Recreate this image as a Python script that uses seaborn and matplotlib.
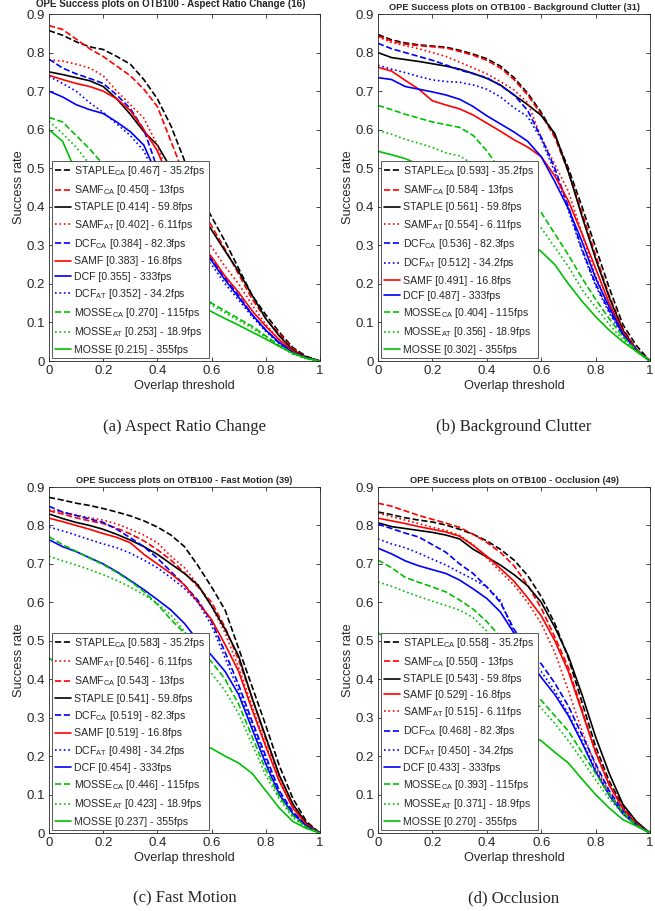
import numpy as np
import pandas as pd
import seaborn as sns
import matplotlib
matplotlib.use("Agg")
import matplotlib.pyplot as plt

# overlap thresholds 0:0.05:1
thresholds = [round(0.05 * i, 2) for i in range(21)]

fps = {"STAPLE_CA": "35.2fps", "SAMF_CA": "13fps", "STAPLE": "59.8fps", "SAMF_AT": "6.11fps",
       "DCF_CA": "82.3fps", "SAMF": "16.8fps", "DCF": "333fps", "DCF_AT": "34.2fps",
       "MOSSE_CA": "115fps", "MOSSE_AT": "18.9fps", "MOSSE": "355fps"}

# (a) Aspect Ratio Change
arc_names = ["STAPLE_CA", "SAMF_CA", "STAPLE", "SAMF_AT", "DCF_CA", "SAMF", "DCF", "DCF_AT",
             "MOSSE_CA", "MOSSE_AT", "MOSSE"]
arc_auc = ["0.467", "0.450", "0.414", "0.402", "0.384", "0.383", "0.355", "0.352", "0.270", "0.253", "0.215"]
arc_curves = [
    [0.857, 0.845, 0.828, 0.815, 0.808, 0.79, 0.77, 0.73, 0.68, 0.61, 0.52, 0.44, 0.374, 0.31, 0.24, 0.17, 0.12, 0.075, 0.035, 0.012, 0],
    [0.87, 0.86, 0.835, 0.81, 0.79, 0.765, 0.74, 0.705, 0.66, 0.57, 0.48, 0.42, 0.35, 0.29, 0.225, 0.16, 0.11, 0.07, 0.032, 0.01, 0],
    [0.75, 0.743, 0.735, 0.727, 0.712, 0.68, 0.64, 0.595, 0.56, 0.5, 0.45, 0.395, 0.34, 0.285, 0.232, 0.17, 0.11, 0.065, 0.028, 0.01, 0],
    [0.781, 0.778, 0.77, 0.76, 0.74, 0.70, 0.665, 0.63, 0.56, 0.46, 0.39, 0.34, 0.296, 0.245, 0.2, 0.145, 0.095, 0.055, 0.025, 0.008, 0],
    [0.783, 0.76, 0.745, 0.733, 0.72, 0.69, 0.655, 0.6, 0.5, 0.43, 0.36, 0.31, 0.265, 0.215, 0.17, 0.12, 0.08, 0.047, 0.022, 0.008, 0],
    [0.741, 0.73, 0.72, 0.712, 0.70, 0.68, 0.65, 0.6, 0.545, 0.46, 0.37, 0.315, 0.27, 0.22, 0.178, 0.13, 0.09, 0.055, 0.025, 0.008, 0],
    [0.70, 0.685, 0.665, 0.652, 0.642, 0.62, 0.595, 0.56, 0.48, 0.4, 0.34, 0.295, 0.26, 0.21, 0.165, 0.12, 0.08, 0.048, 0.022, 0.008, 0],
    [0.738, 0.72, 0.70, 0.67, 0.645, 0.615, 0.585, 0.545, 0.47, 0.39, 0.33, 0.285, 0.25, 0.2, 0.158, 0.115, 0.077, 0.045, 0.02, 0.007, 0],
    [0.632, 0.62, 0.585, 0.55, 0.51, 0.46, 0.41, 0.36, 0.31, 0.265, 0.225, 0.185, 0.15, 0.13, 0.11, 0.09, 0.065, 0.04, 0.02, 0.007, 0],
    [0.622, 0.59, 0.555, 0.51, 0.465, 0.42, 0.375, 0.33, 0.29, 0.25, 0.21, 0.175, 0.145, 0.125, 0.105, 0.085, 0.062, 0.038, 0.018, 0.006, 0],
    [0.6, 0.57, 0.49, 0.43, 0.38, 0.335, 0.295, 0.26, 0.225, 0.195, 0.17, 0.148, 0.128, 0.11, 0.093, 0.075, 0.057, 0.038, 0.02, 0.007, 0],
]

# (b) Background Clutter
bc_names = ["STAPLE_CA", "SAMF_CA", "STAPLE", "SAMF_AT", "DCF_CA", "DCF_AT", "SAMF", "DCF",
            "MOSSE_CA", "MOSSE_AT", "MOSSE"]
bc_auc = ["0.593", "0.584", "0.561", "0.554", "0.536", "0.512", "0.491", "0.487", "0.404", "0.356", "0.302"]
bc_curves = [
    [0.847, 0.833, 0.825, 0.82, 0.817, 0.814, 0.806, 0.796, 0.784, 0.765, 0.735, 0.695, 0.645, 0.585, 0.5, 0.4, 0.295, 0.19, 0.095, 0.04, 0],
    [0.843, 0.83, 0.822, 0.818, 0.815, 0.812, 0.803, 0.793, 0.78, 0.76, 0.73, 0.69, 0.64, 0.58, 0.49, 0.385, 0.275, 0.17, 0.085, 0.03, 0],
    [0.8, 0.787, 0.782, 0.777, 0.771, 0.765, 0.757, 0.746, 0.733, 0.716, 0.69, 0.665, 0.637, 0.59, 0.49, 0.375, 0.265, 0.165, 0.08, 0.03, 0],
    [0.841, 0.826, 0.818, 0.81, 0.8, 0.79, 0.775, 0.76, 0.745, 0.725, 0.703, 0.67, 0.58, 0.51, 0.44, 0.33, 0.22, 0.14, 0.07, 0.025, 0],
    [0.824, 0.81, 0.8, 0.79, 0.78, 0.768, 0.755, 0.745, 0.735, 0.715, 0.69, 0.65, 0.58, 0.5, 0.4, 0.29, 0.2, 0.13, 0.07, 0.03, 0],
    [0.767, 0.757, 0.748, 0.738, 0.729, 0.725, 0.723, 0.716, 0.705, 0.685, 0.657, 0.634, 0.575, 0.49, 0.39, 0.285, 0.195, 0.125, 0.065, 0.027, 0],
    [0.762, 0.752, 0.728, 0.705, 0.675, 0.664, 0.654, 0.638, 0.617, 0.596, 0.574, 0.555, 0.53, 0.48, 0.415, 0.33, 0.24, 0.15, 0.075, 0.03, 0],
    [0.735, 0.73, 0.712, 0.705, 0.698, 0.69, 0.679, 0.66, 0.636, 0.615, 0.594, 0.57, 0.53, 0.465, 0.395, 0.31, 0.215, 0.14, 0.07, 0.028, 0],
    [0.663, 0.652, 0.64, 0.63, 0.62, 0.613, 0.606, 0.585, 0.545, 0.495, 0.45, 0.415, 0.385, 0.33, 0.275, 0.215, 0.16, 0.11, 0.063, 0.028, 0],
    [0.598, 0.588, 0.575, 0.565, 0.554, 0.54, 0.532, 0.51, 0.48, 0.44, 0.405, 0.375, 0.345, 0.295, 0.245, 0.185, 0.14, 0.095, 0.055, 0.025, 0],
    [0.544, 0.535, 0.525, 0.51, 0.49, 0.465, 0.44, 0.415, 0.39, 0.365, 0.34, 0.31, 0.284, 0.25, 0.2, 0.155, 0.115, 0.08, 0.05, 0.025, 0],
]

# (c) Fast Motion
fm_names = ["STAPLE_CA", "SAMF_AT", "SAMF_CA", "STAPLE", "DCF_CA", "SAMF", "DCF_AT", "DCF",
            "MOSSE_CA", "MOSSE_AT", "MOSSE"]
fm_auc = ["0.583", "0.546", "0.543", "0.541", "0.519", "0.519", "0.498", "0.454", "0.446", "0.423", "0.237"]
fm_curves = [
    [0.873, 0.866, 0.858, 0.852, 0.844, 0.835, 0.825, 0.812, 0.796, 0.775, 0.745, 0.695, 0.64, 0.58, 0.48, 0.38, 0.28, 0.175, 0.09, 0.03, 0],
    [0.841, 0.834, 0.827, 0.82, 0.814, 0.804, 0.79, 0.775, 0.755, 0.72, 0.69, 0.645, 0.59, 0.52, 0.43, 0.33, 0.23, 0.14, 0.07, 0.025, 0],
    [0.838, 0.83, 0.82, 0.812, 0.805, 0.793, 0.778, 0.76, 0.737, 0.71, 0.677, 0.64, 0.6, 0.535, 0.45, 0.35, 0.245, 0.15, 0.075, 0.025, 0],
    [0.83, 0.818, 0.808, 0.8, 0.79, 0.777, 0.762, 0.745, 0.725, 0.7, 0.675, 0.645, 0.59, 0.53, 0.46, 0.35, 0.25, 0.15, 0.075, 0.025, 0],
    [0.85, 0.835, 0.826, 0.817, 0.808, 0.79, 0.768, 0.745, 0.715, 0.68, 0.645, 0.605, 0.55, 0.47, 0.385, 0.29, 0.2, 0.11, 0.055, 0.02, 0],
    [0.819, 0.81, 0.8, 0.79, 0.779, 0.769, 0.755, 0.725, 0.7, 0.675, 0.645, 0.6, 0.555, 0.49, 0.42, 0.32, 0.225, 0.135, 0.065, 0.022, 0],
    [0.796, 0.786, 0.775, 0.763, 0.752, 0.742, 0.728, 0.71, 0.69, 0.664, 0.636, 0.6, 0.54, 0.455, 0.37, 0.28, 0.19, 0.105, 0.05, 0.018, 0],
    [0.763, 0.745, 0.732, 0.716, 0.7, 0.68, 0.657, 0.633, 0.607, 0.58, 0.545, 0.5, 0.462, 0.42, 0.36, 0.27, 0.18, 0.1, 0.05, 0.018, 0],
    [0.771, 0.75, 0.733, 0.715, 0.698, 0.678, 0.655, 0.628, 0.595, 0.555, 0.52, 0.48, 0.445, 0.4, 0.335, 0.25, 0.165, 0.095, 0.045, 0.015, 0],
    [0.72, 0.708, 0.697, 0.685, 0.672, 0.657, 0.64, 0.62, 0.597, 0.567, 0.525, 0.47, 0.415, 0.37, 0.31, 0.23, 0.15, 0.088, 0.04, 0.013, 0],
    [0.455, 0.43, 0.405, 0.38, 0.355, 0.335, 0.315, 0.297, 0.28, 0.263, 0.247, 0.233, 0.22, 0.2, 0.182, 0.155, 0.11, 0.065, 0.03, 0.012, 0],
]

# (d) Occlusion
occ_names = ["STAPLE_CA", "SAMF_CA", "STAPLE", "SAMF", "SAMF_AT", "DCF_CA", "DCF_AT", "DCF",
             "MOSSE_CA", "MOSSE_AT", "MOSSE"]
occ_auc = ["0.558", "0.550", "0.543", "0.529", "0.515", "0.468", "0.450", "0.433", "0.393", "0.371", "0.270"]
occ_curves = [
    [0.835, 0.828, 0.82, 0.814, 0.809, 0.801, 0.79, 0.777, 0.76, 0.738, 0.71, 0.67, 0.615, 0.545, 0.455, 0.34, 0.225, 0.135, 0.07, 0.025, 0],
    [0.858, 0.85, 0.838, 0.826, 0.816, 0.806, 0.795, 0.777, 0.756, 0.73, 0.695, 0.645, 0.585, 0.51, 0.43, 0.32, 0.21, 0.125, 0.065, 0.022, 0],
    [0.807, 0.797, 0.792, 0.787, 0.782, 0.775, 0.765, 0.738, 0.718, 0.697, 0.672, 0.643, 0.6, 0.535, 0.46, 0.36, 0.25, 0.155, 0.075, 0.03, 0],
    [0.819, 0.812, 0.805, 0.797, 0.79, 0.783, 0.772, 0.748, 0.72, 0.688, 0.655, 0.612, 0.565, 0.5, 0.42, 0.315, 0.21, 0.125, 0.065, 0.025, 0],
    [0.832, 0.823, 0.814, 0.805, 0.795, 0.787, 0.774, 0.75, 0.715, 0.68, 0.645, 0.6, 0.545, 0.47, 0.37, 0.265, 0.175, 0.105, 0.055, 0.02, 0],
    [0.803, 0.792, 0.78, 0.77, 0.75, 0.73, 0.70, 0.675, 0.64, 0.6, 0.53, 0.48, 0.44, 0.39, 0.33, 0.255, 0.18, 0.11, 0.058, 0.022, 0],
    [0.765, 0.752, 0.742, 0.728, 0.712, 0.697, 0.678, 0.66, 0.64, 0.605, 0.52, 0.46, 0.42, 0.37, 0.31, 0.24, 0.165, 0.1, 0.052, 0.02, 0],
    [0.741, 0.726, 0.708, 0.695, 0.685, 0.675, 0.658, 0.635, 0.61, 0.575, 0.52, 0.455, 0.405, 0.36, 0.305, 0.235, 0.16, 0.098, 0.05, 0.02, 0],
    [0.71, 0.69, 0.665, 0.652, 0.64, 0.627, 0.606, 0.582, 0.55, 0.51, 0.45, 0.39, 0.345, 0.305, 0.265, 0.21, 0.155, 0.1, 0.055, 0.02, 0],
    [0.653, 0.642, 0.628, 0.615, 0.603, 0.592, 0.58, 0.56, 0.525, 0.48, 0.425, 0.37, 0.325, 0.285, 0.24, 0.19, 0.138, 0.088, 0.05, 0.02, 0],
    [0.52, 0.5, 0.475, 0.45, 0.425, 0.4, 0.375, 0.35, 0.325, 0.3, 0.277, 0.258, 0.24, 0.21, 0.182, 0.14, 0.1, 0.065, 0.035, 0.018, 0],
]

panels = [
    ("Aspect Ratio Change (16)", "(a) Aspect Ratio Change", arc_names, arc_auc, arc_curves),
    ("Background Clutter (31)", "(b) Background Clutter", bc_names, bc_auc, bc_curves),
    ("Fast Motion (39)", "(c) Fast Motion", fm_names, fm_auc, fm_curves),
    ("Occlusion (49)", "(d) Occlusion", occ_names, occ_auc, occ_curves),
]

base_colors = {"STAPLE": "black", "SAMF": "#ff0000", "DCF": "#0000ff", "MOSSE": "#00c000"}
suffix_styles = {"CA": "--", "AT": ":", "": "-"}

sns.set_style("ticks")
plt.rcParams["font.family"] = ["Liberation Sans", "DejaVu Sans"]
plt.rcParams["mathtext.fontset"] = "custom"
plt.rcParams["mathtext.rm"] = "Liberation Sans"
plt.rcParams["mathtext.it"] = "Liberation Sans:italic"

fig = plt.figure(figsize=(6.55, 9.11), dpi=100)
positions = [
    [0.0748, 0.6037, 0.4137, 0.3809],
    [0.5771, 0.6037, 0.4153, 0.3809],
    [0.0748, 0.0856, 0.4137, 0.3798],
    [0.5771, 0.0856, 0.4153, 0.3798],
]
title_sizes = [7.0, 6.7, 6.65, 6.7]
title_x = [0.45, 0.5, 0.5, 0.5]
title_pad = [5, 3, 3, 3]
gray = "#262626"

for i, (pos, (title, caption, names, aucs, curves)) in enumerate(zip(positions, panels)):
    ax = fig.add_axes(pos)
    for name, auc, vals in zip(names, aucs, curves):
        base, _, suf = name.partition("_")
        label = base + (r"$_{\rm " + suf + "}$" if suf else "") + f" [{auc}] - {fps[name]}"
        sns.lineplot(x=thresholds, y=vals, ax=ax, color=base_colors[base],
                     linestyle=suffix_styles[suf], linewidth=1.2, label=label)
    ax.set_xlim(0, 1)
    ax.set_ylim(0, 0.9)
    ax.set_xticks(np.arange(0, 1.01, 0.2))
    ax.set_xticklabels(["0", "0.2", "0.4", "0.6", "0.8", "1"])
    ax.set_yticks(np.arange(0, 0.91, 0.1))
    ax.set_yticklabels(["0"] + [f"{v/10:.1f}" for v in range(1, 10)])
    ax.tick_params(direction="in", top=True, right=True, length=3, width=0.6,
                   labelsize=9.5, colors=gray, pad=3)
    for s in ax.spines.values():
        s.set_visible(True)
        s.set_linewidth(0.6)
        s.set_color(gray)
    ax.set_title("OPE Success plots on OTB100 - " + title, fontsize=title_sizes[i],
                 fontweight="bold", pad=title_pad[i], x=title_x[i])
    ax.set_xlabel("Overlap threshold", fontsize=9.2, color=gray, labelpad=2)
    ax.set_ylabel("Success rate", fontsize=9.2, color=gray, labelpad=1)
    leg = ax.legend(loc="lower left", fontsize=7.6, frameon=True, fancybox=False,
                    framealpha=1, edgecolor="#555555", handlelength=1.5,
                    handletextpad=0.3, labelspacing=0.5, borderpad=0.3,
                    borderaxespad=0.3)
    leg.get_frame().set_linewidth(0.7)
    for t in leg.get_texts():
        t.set_color(gray)
    cx = pos[0] + pos[2] / 2
    cy = pos[1] - 0.072
    fig.text(cx, cy, caption, ha="center", va="center", fontsize=12,
             family=["Liberation Serif", "DejaVu Serif"])

fig.savefig("out.png", dpi=100)
